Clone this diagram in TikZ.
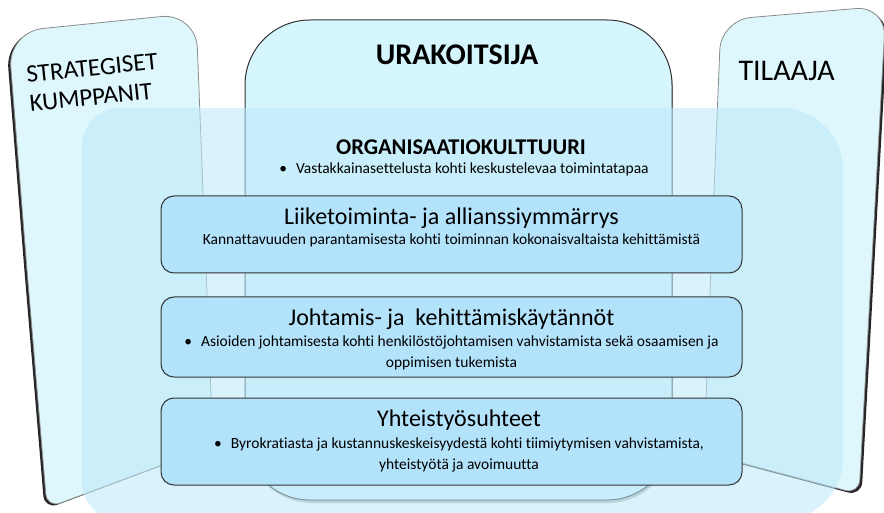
\documentclass[tikz,border=0pt]{standalone}
\usepackage{fontspec}
\setmainfont{Carlito}[Ligatures=NoCommon]
\definecolor{panel}{HTML}{DEF7FC}
\definecolor{central}{HTML}{D6F6FD}
\definecolor{bigrect}{HTML}{BDE9FA}
\definecolor{inner}{HTML}{B3E2FB}
\definecolor{edge}{HTML}{333333}
\begin{document}
\begin{tikzpicture}[x=1pt,y=-1pt,
  panelshade/.style={fill=black!85},
  panelbody/.style={fill=panel, draw=black!45, line width=0.8pt},
  inbox/.style={draw=edge, line width=1pt, fill=inner, rounded corners=13pt,
    minimum width=581pt, inner sep=0pt},
  titletext/.style={font=\fontsize{24}{29}\selectfont, anchor=base},
  subtext/.style={font=\fontsize{15.5}{21}\selectfont, anchor=base, align=center},
  paneltext/.style={anchor=base west}]
\useasboundingbox (0,0) rectangle (884,513);
\fill[white] (0,0) rectangle (884,513);

% left panel (strategiset kumppanit)
\fill[panelshade, xshift=-2.5pt, yshift=-1.5pt]
  (27,270) [rounded corners=35pt] -- (8,32) -- (196,13) [rounded corners=14pt] -- (213,446) -- (47,508) -- cycle;
\path[panelbody]
  (27,270) [rounded corners=35pt] -- (8,32) -- (196,13) [rounded corners=14pt] -- (213,446) -- (47,508) -- cycle;

% right panel (tilaaja)
\fill[panelshade, xshift=2.5pt, yshift=-2pt]
  (712,240) [rounded corners=30pt] -- (721,20) -- (886,6) [rounded corners=14pt] -- (859,494) -- (704,453) -- cycle;
\path[panelbody]
  (712,240) [rounded corners=30pt] -- (721,20) -- (886,6) [rounded corners=14pt] -- (859,494) -- (704,453) -- cycle;

% central box (urakoitsija)
\fill[black!45, opacity=0.6, rounded corners=65pt] (247,24) rectangle (673,503);
\node[draw=black!80, line width=1pt, fill=central, rounded corners=65pt,
  minimum width=427pt, minimum height=480pt, inner sep=0pt] (ura) at (458.5,260) {};

% big translucent box (organisaatiokulttuuri)
\fill[bigrect, fill opacity=0.55]
  (82,300) [rounded corners=38pt] -- (82,108) [rounded corners=62pt] -- (843,108) -- (843,520) [rounded corners=38pt] -- (82,520) -- cycle;

% inner boxes
\node[inbox, minimum height=77pt] (b1) at (451.5,234.5) {};
\node[inbox, minimum height=80pt] (b2) at (451.5,337) {};
\node[inbox, minimum height=87pt] (b3) at (451.5,441.5) {};

% texts
\node[paneltext, rotate=6, align=left, font=\fontsize{25}{29}\selectfont] (sk) at (27,112) {STRATEGISET\\KUMPPANIT};
\node[paneltext, font=\fontsize{30}{36}\selectfont] (til) at (735,81) {TILAAJA};
\node[anchor=base, font=\bfseries\fontsize{30}{36}\selectfont] (urat) at (457,65) {URAKOITSIJA};
\node[anchor=base, font=\bfseries\fontsize{22.5}{27}\selectfont] (orgt) at (461,155) {ORGANISAATIOKULTTUURI};
\node[anchor=base, font=\fontsize{15.5}{18}\selectfont] (orgs) at (464,174) {•\hspace{9pt}Vastakkainasettelusta kohti keskustelevaa toimintatapaa};

\node[titletext] (t1) at (451.5,225) {Liiketoiminta- ja allianssiymmärrys};
\node[subtext] (s1) at (451.5,245) {Kannattavuuden parantamisesta kohti toiminnan kokonaisvaltaista kehittämistä};

\node[titletext] (t2) at (451.5,326) {Johtamis- ja\ \ kehittämiskäytännöt};
\node[subtext] (s2) at (451.5,367) {•\hspace{9pt}Asioiden johtamisesta kohti henkilöstöjohtamisen vahvistamista sekä osaamisen ja\\oppimisen tukemista};

\node[titletext] (t3) at (459,426) {Yhteistyösuhteet};
\node[subtext] (s3) at (459,469) {•\hspace{9pt}Byrokratiasta ja kustannuskeskeisyydestä kohti tiimiytymisen vahvistamista,\\yhteistyötä ja avoimuutta};
\end{tikzpicture}
\end{document}
